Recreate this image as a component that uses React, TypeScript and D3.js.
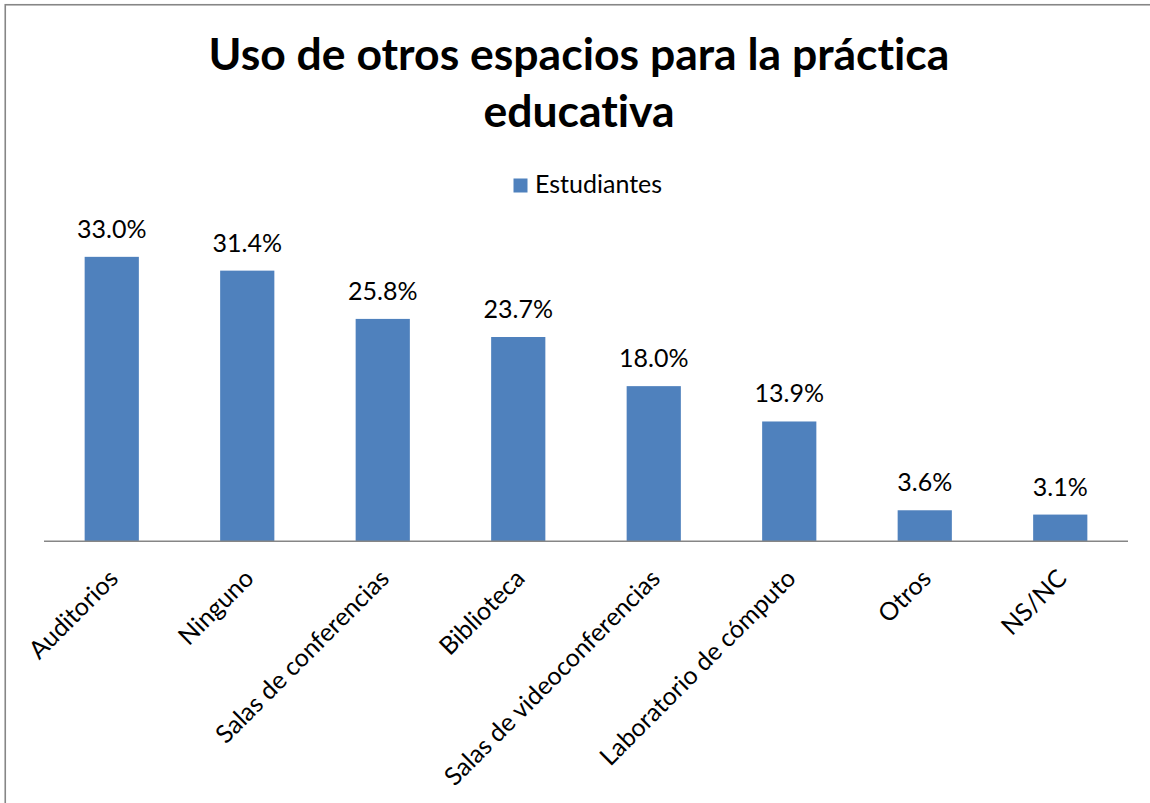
import React from "react";
import * as d3 from "d3";

const categories = [
  "Auditorios",
  "Ninguno",
  "Salas de conferencias",
  "Biblioteca",
  "Salas de videoconferencias",
  "Laboratorio de cómputo",
  "Otros",
  "NS/NC",
];
const values = [33.0, 31.4, 25.8, 23.7, 18.0, 13.9, 3.6, 3.1];
const seriesName = "Estudiantes";
const titleLines = ["Uso de otros espacios para la práctica", "educativa"];

const W = 1150;
const H = 803;
const FONT = "Lato, 'Open Sans', sans-serif";
const BAR = "#4F81BD";
const AXIS = "#868686";

export default function App() {
  const x = d3
    .scaleBand<string>()
    .domain(categories)
    .range([44, 1128])
    .paddingInner(0.6)
    .paddingOuter(0.3);
  const y = d3.scaleLinear().domain([0, 35]).range([541.3, 239.6]);
  const fmt = (v: number) => d3.format(".1f")(v) + "%";

  return (
    <svg
      width={W}
      height={H}
      style={{
        position: "absolute",
        left: 0,
        top: 0,
        background: "#fff",
        fontVariantLigatures: "none",
        fontFeatureSettings: '"liga" 0, "dlig" 0',
      }}
      fontFamily={FONT}
    >
      <rect x={0} y={0} width={W} height={H} fill="#fff" />
      <rect
        x={5.25}
        y={4.75}
        width={W + 10}
        height={H + 10}
        fill="none"
        stroke={AXIS}
        strokeWidth={1.6}
      />
      {titleLines.map((t, i) => (
        <text
          key={i}
          x={579}
          y={70 + i * 56.5}
          textAnchor="middle"
          fontSize={44.5}
          fontWeight="bold"
          fill="#000"
        >
          {t}
        </text>
      ))}
      <g>
        <rect x={513.5} y={178.5} width={14} height={14} fill={BAR} />
        <text x={535} y={193} fontSize={25} fill="#000">
          {seriesName}
        </text>
      </g>
      {categories.map((c, i) => (
        <g key={c}>
          <rect
            x={x(c)!}
            y={y(values[i])}
            width={x.bandwidth()}
            height={y(0) - y(values[i])}
            fill={BAR}
          />
          <text
            x={x(c)! + x.bandwidth() / 2}
            y={y(values[i]) - 19}
            textAnchor="middle"
            fontSize={25}
            fill="#000"
          >
            {fmt(values[i])}
          </text>
          <text
            transform={`translate(${x(c)! + x.bandwidth() / 2 + 8},${580}) rotate(-45)`}
            textAnchor="end"
            fontSize={25}
            fill="#000"
          >
            {c}
          </text>
        </g>
      ))}
      <line
        x1={44}
        x2={1128}
        y1={y(0)}
        y2={y(0)}
        stroke={AXIS}
        strokeWidth={1.5}
      />
    </svg>
  );
}
